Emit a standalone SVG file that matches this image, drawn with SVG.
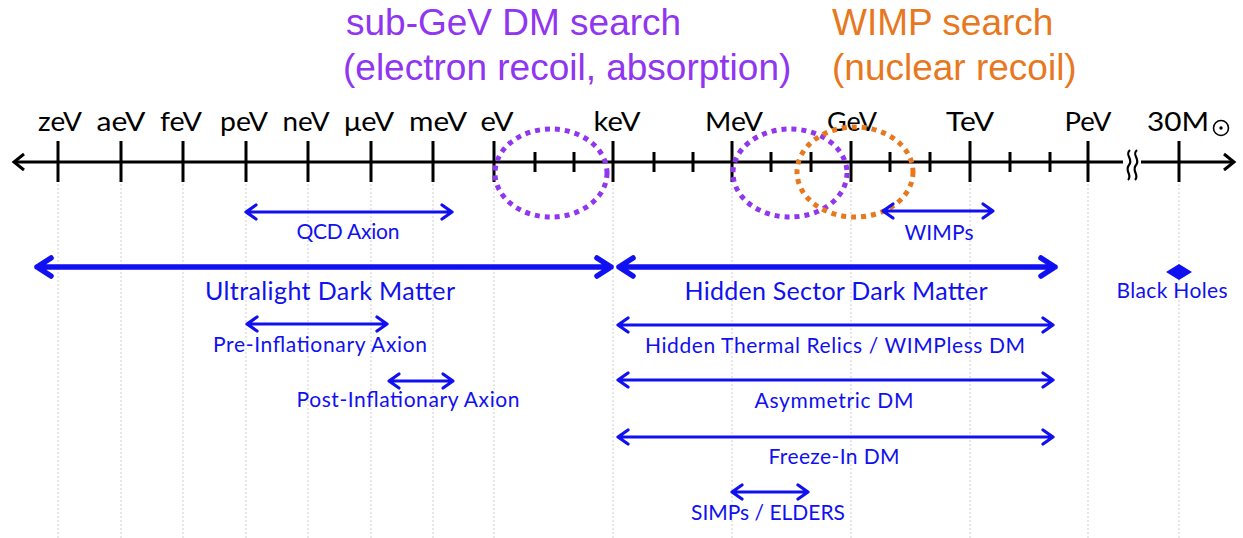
<svg xmlns="http://www.w3.org/2000/svg" width="1243" height="538" viewBox="0 0 1243 538">
<style>
.bg{fill:#ffffff}
.grid{stroke:#cfcfcf;stroke-width:1;stroke-dasharray:2 2;fill:none}
.axis{stroke:#000;stroke-width:3;fill:none;stroke-linecap:butt}
.tick{stroke:#000;stroke-width:3}
.ax{font-family:Lato,"Open Sans",sans-serif;font-size:26.5px;fill:#000;text-anchor:middle}
.title{font-family:"Liberation Sans",Arial,sans-serif;font-size:37px}
.purple{fill:#9035F0}
.orange{fill:#E8781E}
.ring{fill:none;stroke-width:5;stroke-dasharray:5 5}
.lbl{font-family:Lato,"Open Sans",sans-serif;font-size:21px;fill:#1010F0;text-anchor:middle}
.big{font-size:25px}
.arr{stroke:#1010F0;fill:none;stroke-width:3.2;stroke-linecap:round;stroke-linejoin:round}
.thick{stroke-width:5.5}
</style>
<rect class="bg" x="0" y="0" width="1243" height="538"/>

<g id="grid">
<path class="grid" d="M58 184V538M121 184V538M183 184V538M246 184V538M308 184V538M371 184V538M433 184V538M494 184V538M613 184V538M732 184V538M851 184V538M970 184V538M1088 184V538M1179 184V538"/>
</g>

<g id="titles">
<text class="title purple" x="346" y="35">sub-GeV DM search</text>
<text class="title purple" x="343" y="80">(electron recoil, absorption)</text>
<text class="title orange" x="832" y="35">WIMP search</text>
<text class="title orange" x="832" y="80">(nuclear recoil)</text>
</g>

<g id="axis">
<path class="axis" d="M14 162H1123M1141 162H1234"/>
<path class="axis" d="M24 154L14 162L24 170M1224 154L1234 162L1224 170" style="stroke-linejoin:miter"/>
<path class="tick" d="M58 141V182M121 141V182M183 141V182M246 141V182M308 141V182M371 141V182M433 141V182M494 141V182M613 141V182M732 141V182M851 141V182M970 141V182M1088 141V182M1179 141V182"/>
<path class="tick" d="M535 152V172M574 152V172M654 152V172M693 152V172M771 152V172M811 152V172M890 152V172M930 152V172M1010 152V172M1050 152V172"/>
<path d="M1130 150c-6 5 4 9 -1 15c-5 6 4 10 -1 15M1137 150c-6 5 4 9 -1 15c-5 6 4 10 -1 15" fill="none" stroke="#000" stroke-width="2.2"/>
<text class="ax" x="60" y="131" textLength="44" lengthAdjust="spacingAndGlyphs">zeV</text>
<text class="ax" x="121" y="131" textLength="49" lengthAdjust="spacingAndGlyphs">aeV</text>
<text class="ax" x="181" y="131" textLength="42" lengthAdjust="spacingAndGlyphs">feV</text>
<text class="ax" x="244" y="131" textLength="48" lengthAdjust="spacingAndGlyphs">peV</text>
<text class="ax" x="306" y="131" textLength="47" lengthAdjust="spacingAndGlyphs">neV</text>
<text class="ax" x="369" y="131" textLength="50" lengthAdjust="spacingAndGlyphs">μeV</text>
<text class="ax" x="438" y="131" textLength="58" lengthAdjust="spacingAndGlyphs">meV</text>
<text class="ax" x="497" y="131" textLength="33" lengthAdjust="spacingAndGlyphs">eV</text>
<text class="ax" x="617" y="131" textLength="47" lengthAdjust="spacingAndGlyphs">keV</text>
<text class="ax" x="734" y="131" textLength="58" lengthAdjust="spacingAndGlyphs">MeV</text>
<text class="ax" x="852" y="131" textLength="50" lengthAdjust="spacingAndGlyphs">GeV</text>
<text class="ax" x="970" y="131" textLength="48" lengthAdjust="spacingAndGlyphs">TeV</text>
<text class="ax" x="1088" y="131" textLength="47" lengthAdjust="spacingAndGlyphs">PeV</text>
<text class="ax" x="1147" y="131" style="text-anchor:start" textLength="62" lengthAdjust="spacingAndGlyphs">30M</text>
<circle cx="1221" cy="128" r="7.5" fill="none" stroke="#000" stroke-width="1.6"/>
<circle cx="1221" cy="128" r="1.7" fill="#000"/>
</g>

<g id="search-regions">
<ellipse class="ring" cx="551" cy="173" rx="56" ry="44" stroke="#9035F0"/>
<ellipse class="ring" cx="790" cy="173" rx="57" ry="44" stroke="#9035F0"/>
<ellipse class="ring" cx="855" cy="172" rx="58" ry="45" stroke="#E8781E"/>
</g>

<g id="connectors">
<path class="arr" d="M246 212H452M256 205L246 212L256 219M442 205L452 212L442 219"/>
<path class="arr" d="M883 211H993M893 204L883 211L893 218M983 204L993 211L983 218"/>
<path class="arr thick" d="M37 267H611M51 258L37 267L51 276M597 258L611 267L597 276"/>
<path class="arr thick" d="M619 267H1055M633 258L619 267L633 276M1041 258L1055 267L1041 276"/>
<path class="arr" d="M247 324H387M257 317L247 324L257 331M377 317L387 324L377 331"/>
<path class="arr" d="M389 381H453M399 374L389 381L399 388M443 374L453 381L443 388"/>
<path class="arr" d="M618 325H1053M628 318L618 325L628 332M1043 318L1053 325L1043 332"/>
<path class="arr" d="M618 380H1053M628 373L618 380L628 387M1043 373L1053 380L1043 387"/>
<path class="arr" d="M618 437H1053M628 430L618 437L628 444M1043 430L1053 437L1043 444"/>
<path class="arr" d="M732 492H808M742 485L732 492L742 499M798 485L808 492L798 499"/>
<path d="M1166 272L1179 264L1192 272L1179 280Z" fill="#1010F0"/>
</g>

<g id="qcd-axion"><text class="lbl" x="348" y="239" textLength="103">QCD Axion</text></g>
<g id="wimps"><text class="lbl" x="939" y="240" textLength="69">WIMPs</text></g>
<g id="ultralight"><text class="lbl big" x="330" y="300" textLength="250">Ultralight Dark Matter</text></g>
<g id="hidden-sector"><text class="lbl big" x="836" y="300" textLength="303">Hidden Sector Dark Matter</text></g>
<g id="black-holes"><text class="lbl" x="1172" y="298" textLength="111">Black Holes</text></g>
<g id="pre-inflationary"><text class="lbl" x="320" y="352" textLength="214">Pre-Inflationary Axion</text></g>
<g id="post-inflationary"><text class="lbl" x="408" y="407" textLength="223">Post-Inflationary Axion</text></g>
<g id="hidden-thermal"><text class="lbl" x="835" y="353" textLength="380">Hidden Thermal Relics / WIMPless DM</text></g>
<g id="asymmetric"><text class="lbl" x="834" y="408" textLength="159">Asymmetric DM</text></g>
<g id="freeze-in"><text class="lbl" x="834" y="464" textLength="131">Freeze-In DM</text></g>
<g id="simps"><text class="lbl" x="768" y="520" textLength="154">SIMPs / ELDERS</text></g>
</svg>
